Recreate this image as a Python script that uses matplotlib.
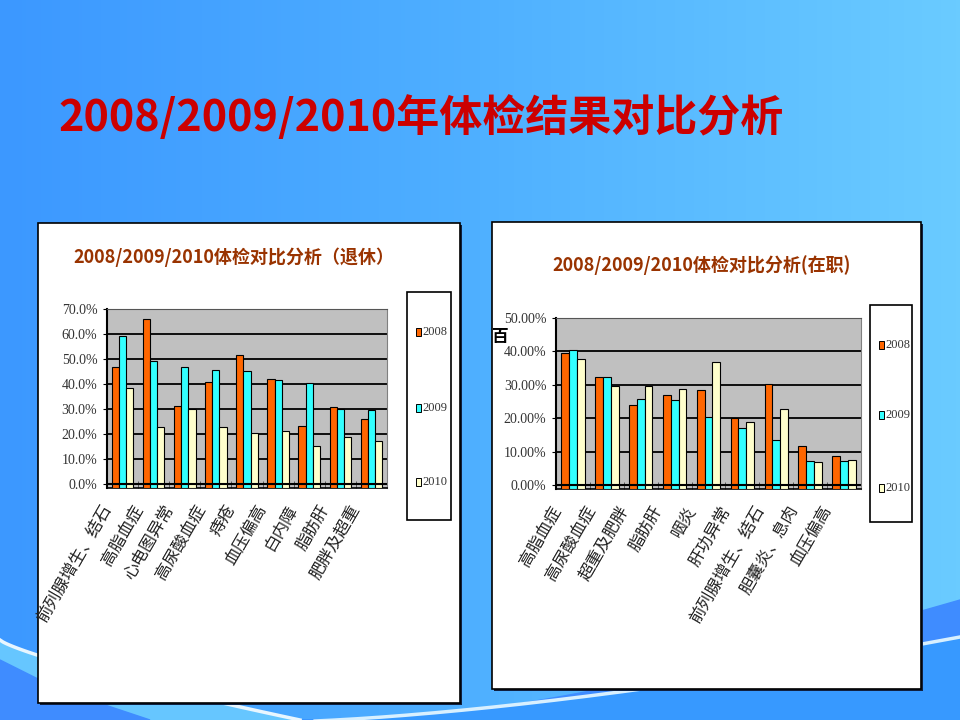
import numpy as np
import matplotlib.pyplot as plt
from matplotlib.patches import Rectangle, Polygon
from matplotlib.colors import LinearSegmentedColormap

plt.rcParams['font.family'] = ['Noto Sans CJK SC', 'DejaVu Sans']

years = ['2008', '2009', '2010']
bar_colors = ['#ff6600', '#33ffff', '#ffffcc']

# 退休
retired_items = ['前列腺增生、结石', '高脂血症', '心电图异常', '高尿酸血症', '痔疮',
                 '血压偏高', '白内障', '脂肪肝', '肥胖及超重']
retired_2008 = [46.7, 66.2, 31.3, 41.0, 51.8, 42.2, 23.3, 30.8, 26.1]
retired_2009 = [59.1, 49.4, 46.7, 45.5, 45.1, 41.5, 40.3, 30.1, 29.6]
retired_2010 = [38.6, 22.8, 30.0, 22.8, 20.4, 21.4, 15.3, 18.8, 17.4]

# 在职
working_items = ['高脂血症', '高尿酸血症', '超重及肥胖', '脂肪肝', '咽炎', '肝功异常',
                 '前列腺增生、结石', '胆囊炎、息肉', '血压偏高']
working_2008 = [39.4, 32.3, 24.1, 27.0, 28.3, 20.1, 30.3, 11.8, 8.6]
working_2009 = [40.5, 32.3, 25.8, 25.4, 20.5, 17.2, 13.5, 7.3, 7.3]
working_2010 = [37.7, 29.5, 29.7, 28.7, 36.9, 18.8, 22.9, 6.9, 7.6]

W, H = 960, 720


def frac(x0, y0, x1, y1):
    return [x0 / W, 1 - y1 / H, (x1 - x0) / W, (y1 - y0) / H]


fig = plt.figure(figsize=(9.6, 7.2), dpi=100)

# slide background
bg = fig.add_axes([0, 0, 1, 1])
bg.set_xlim(0, W)
bg.set_ylim(H, 0)
bg.axis('off')
cmap = LinearSegmentedColormap.from_list('bg', ['#3c98ff', '#4fb0ff', '#6acbff'])
bg.imshow(np.linspace(0, 1, 256).reshape(1, -1), extent=[0, W, H, 0],
          cmap=cmap, aspect='auto', zorder=0)

# swooshes at the bottom
xs = np.linspace(0, W, 200)
y_dark = 720 - 120 * np.clip((xs - 380) / 580, 0, 1) ** 1.4
y_white = 722 - 85 * np.clip((xs - 280) / 680, 0, 1) ** 1.5
bg.fill_between(xs, y_dark, 720, color='#3f8cff', zorder=1)
bg.fill_between(xs, y_white, 720, color='#3799ff', zorder=1)
bg.plot(xs[xs > 280], y_white[xs > 280], color='#d8f0ff', lw=2.5, zorder=2)
xl = np.linspace(0, 300, 100)
y_left = 640 + 80 * (xl / 300) ** 0.8
bg.fill_between(xl, y_left, 720, color='#66c6ff', zorder=1)
bg.plot(xl, y_left, color='#e8f6ff', lw=2.5, zorder=2)
bg.add_patch(Polygon([[0, 660], [60, 690], [150, 720], [0, 720]], color='#3f8cff', zorder=2))

bg.text(58, 118, '2008/2009/2010年体检结果对比分析', fontsize=31, weight='bold',
        color='#cc0000', va='center', ha='left', zorder=3)

# chart boxes
for x0, y0, x1, y1 in [(38, 223, 460, 703), (492, 222, 921, 689)]:
    bg.add_patch(Rectangle((x0 + 2, y0 + 2), x1 - x0, y1 - y0, fc='#102040', ec='none', zorder=3))
    bg.add_patch(Rectangle((x0, y0), x1 - x0, y1 - y0, fc='white', ec='black', lw=1.2, zorder=4))

bg.text(234, 257, '2008/2009/2010体检对比分析（退休）', fontsize=13, weight='bold',
        color='#993300', ha='center', va='center', zorder=5)
bg.text(702, 265, '2008/2009/2010体检对比分析(在职)', fontsize=13, weight='bold',
        color='#993300', ha='center', va='center', zorder=5)
bg.text(500, 337, '百', fontsize=12, weight='bold', ha='center', va='center', zorder=5)


def draw_legend(box, ys):
    x0, y0, x1, y1 = box
    bg.add_patch(Rectangle((x0, y0), x1 - x0, y1 - y0, fc='white', ec='black', lw=1.2, zorder=5))
    for yr, c, yy in zip(years, bar_colors, ys):
        bg.add_patch(Rectangle((x0 + 9, yy - 4), 5, 8, fc=c, ec='black', lw=0.7, zorder=6))
        bg.text(x0 + 15, yy, yr, family='Liberation Serif', fontsize=9, color='#333333',
                va='center', ha='left', zorder=6)


draw_legend((407, 292, 451, 520), (332, 408, 482))
draw_legend((870, 305, 912, 522), (345, 415, 488))


def draw_chart(rect, items, series, ymax, fmt, pad):
    ax = fig.add_axes(frac(*rect))
    n = len(items)
    x = np.arange(n)
    w = 0.23
    for i, (vals, c) in enumerate(zip(series, bar_colors)):
        v = np.array(vals)
        ax.bar(x + (i - 1) * w, v + pad, bottom=-pad, width=w, color=c,
               edgecolor='black', linewidth=0.8, zorder=3)
    ax.set_facecolor('#c0c0c0')
    ax.set_xlim(-0.5, n - 0.5)
    ax.set_ylim(-pad, ymax)
    ticks = np.arange(0, ymax + 1, 10)
    ax.set_yticks(ticks)
    ax.set_yticklabels([fmt % t for t in ticks], family='Liberation Serif',
                       fontsize=10, color='#333333')
    for t in ticks[1:]:
        ax.axhline(t, color='black', lw=1.3, zorder=2)
    ax.axhline(0, color='black', lw=1.5, zorder=4)
    ax.set_xticks(x - 0.25)
    ax.set_xticklabels(items, rotation=60, ha='right', fontsize=12, weight='light',
                       color='#222222')
    ax.set_xticks(np.arange(0.5, n - 0.5), minor=True)
    ax.tick_params(axis='x', which='major', length=0, pad=10)
    ax.tick_params(axis='x', which='minor', direction='in', length=5, color='#444444')
    ax.tick_params(axis='y', length=3, pad=4)
    ax.spines['left'].set_linewidth(1.5)
    ax.spines['bottom'].set_linewidth(1.2)
    ax.spines['top'].set_color('#555555')
    ax.spines['right'].set_color('#808080')
    return ax


draw_chart((107, 309, 387, 488), retired_items,
           [retired_2008, retired_2009, retired_2010], 70, '%.1f%%', 1.6)
draw_chart((556, 318, 861, 489), working_items,
           [working_2008, working_2009, working_2010], 50, '%.2f%%', 1.2)

fig.savefig('out.png', dpi=100)
